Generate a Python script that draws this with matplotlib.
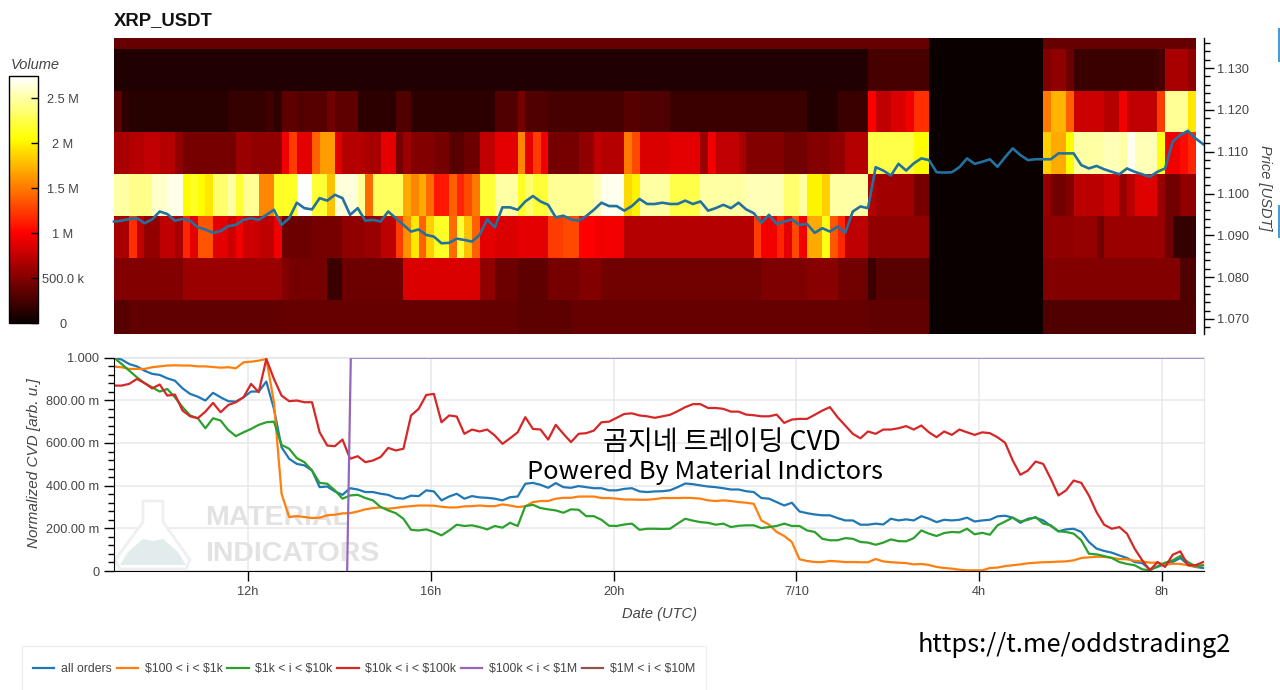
import numpy as np
import matplotlib
matplotlib.use('Agg')
import matplotlib.pyplot as plt
import matplotlib.patches as mpatches
from matplotlib.ticker import MultipleLocator

plt.rcParams['font.family'] = ['Liberation Sans', 'DejaVu Sans']

# ---- heatmap: volume (millions) per price bin, as runs over 10 minute columns ----
NUM_COLS = 142
bin_edges = [1.0645, 1.0745, 1.0846, 1.0946, 1.1047, 1.1147, 1.1246, 1.1346, 1.1446]

b0_start = [0, 2, 9, 22, 48, 53, 60, 99, 107, 122]
b0_vol = [0.32, 0.36, 0.36, 0.38, 0.37, 0.34, 0.38, 0.36, 0, 0.3]

b1_start = [0, 9, 22, 23, 28, 30, 38, 48, 50, 53, 57, 61, 64, 85, 91, 95, 99, 100, 107, 122, 140]
b1_vol = [0.5, 0.6, 0.5, 0.45, 0.2, 0.4, 0.85, 0.55, 0.4, 0.35, 0.45, 0.5, 0.42, 0.48, 0.52, 0.42, 0.2, 0.33, 0, 0.5, 0.28]

b2_start = [0, 2, 3, 4, 6, 8, 9, 10, 11, 13, 15, 16, 17, 19, 21, 22, 26, 30, 33, 35, 37, 38, 39, 40, 41, 42, 44, 45, 46, 47,
            48, 50, 53, 57, 59, 61, 63, 67, 84, 85, 87, 88, 89, 90, 91, 93, 94, 95, 96, 99, 107, 122, 126, 129, 130, 138, 139]
b2_vol = [0.65, 1.2, 0.74, 0.56, 0.74, 0.65, 1.15, 0.9, 1.35, 0.9, 0.8, 0.95, 0.8, 0.74, 0.95, 0.4, 0.45, 0.55, 0.6, 0.74, 1.25, 1.6, 1.95, 1.4, 1.85, 2.15, 1.45, 2.2, 1.8, 1.4,
          0.9, 0.85, 0.9, 1.25, 1.3, 1.0, 0.95, 0.7, 1.25, 0.95, 1.15, 0.9, 1.3, 0.95, 1.7, 2.1, 1.35, 1.15, 0.74, 0.55, 0, 0.55, 0.58, 0.42, 0.6, 0.42, 0.18]

b3_start = [0, 2, 5, 7, 9, 10, 11, 12, 13, 15, 16, 17, 19, 21, 24, 26, 28, 29, 32, 33, 34, 38, 39, 40, 41, 42, 44, 45, 46, 47,
            48, 50, 53, 54, 55, 57, 63, 64, 67, 68, 69, 73, 77, 83, 88, 90, 91, 93, 94, 99, 100, 105, 107, 122, 123, 125, 126, 130, 132, 133, 134, 137, 138, 140]
b3_vol = [2.5, 2.42, 2.6, 2.68, 2.05, 2.15, 2.05, 1.95, 2.35, 2.5, 2.2, 2.45, 1.55, 2.15, 2.75, 2.2, 1.8, 2.65, 2.45, 1.45, 2.3, 1.7, 1.55, 1.7, 1.45, 1.1, 1.4, 1.15, 1.3, 1.5,
          2.2, 2.5, 2.15, 2.35, 2.2, 2.45, 2.55, 2.7, 1.9, 2.0, 2.5, 2.25, 2.5, 2.55, 2.35, 2.5, 2.0, 1.85, 2.5, 0.7, 0.62, 0.45, 0, 0.58, 0.42, 0.5, 0.72, 0.8, 0.58, 0.72, 0.88, 0.6, 0.42, 0.55]

b4_start = [0, 2, 4, 6, 8, 9, 16, 18, 22, 23, 24, 26, 27, 29, 30, 33, 35, 37, 38, 39, 42, 44, 46, 48, 50, 53, 54, 55, 56, 57,
            61, 63, 64, 67, 68, 69, 73, 77, 78, 79, 82, 83, 88, 91, 94, 96, 99, 105, 107, 122, 123, 125, 126, 130, 132, 133, 134, 137, 138, 140, 141]
b4_vol = [0.65, 0.7, 0.75, 0.7, 0.55, 0.45, 0.6, 0.55, 0.95, 1.25, 0.9, 1.4, 1.65, 0.9, 0.7, 0.65, 0.9, 0.45, 0.6, 0.5, 0.45, 0.32, 0.4, 0.75, 0.9, 1.55, 0.9, 1.25, 0.95, 0.45,
          0.55, 0.75, 0.7, 1.5, 1.3, 0.85, 0.9, 0.6, 0.95, 0.75, 0.65, 0.5, 0.42, 0.5, 0.55, 0.7, 2.25, 2.05, 0, 1.85, 1.7, 2.05, 2.5, 2.55, 2.5, 2.7, 2.55, 2.1, 0.95, 1.05, 1.15]

b5_start = [0, 1, 2, 15, 20, 21, 22, 24, 25, 28, 29, 32, 37, 39, 50, 53, 54, 57, 67, 69, 73, 91, 95, 99, 100, 102, 104, 105, 107, 122, 123, 125, 126, 130, 132, 133, 137, 138, 141]
b5_vol = [0.35, 0.16, 0.12, 0.18, 0.22, 0.16, 0.35, 0.3, 0.32, 0.42, 0.35, 0.15, 0.3, 0.15, 0.3, 0.45, 0.3, 0.25, 0.32, 0.28, 0.2, 0.1, 0.2, 1.0, 0.75, 0.85, 0.95, 1.2, 0, 1.5, 1.75, 1.4, 0.8, 0.7, 0.95, 0.75, 1.25, 2.45, 1.95]

b6_start = [0, 99, 107, 122, 123, 125, 126, 137, 138, 141]
b6_vol = [0.09, 0.25, 0, 0.5, 0.55, 0.4, 0.2, 0.25, 0.65, 0.55]

b7_start = [0, 107, 122]
b7_vol = [0.38, 0, 0.38]

# ---- series on a 10 minute grid ----
START_HOUR = 9.068

price = [1.0933, 1.0935, 1.0939, 1.0941, 1.0929, 1.0938, 1.0957, 1.0951, 1.0935, 1.0939, 1.0935, 1.0919, 1.0914, 1.0906, 1.0910, 1.0922, 1.0925,
         1.0937, 1.0941, 1.0937, 1.0949, 1.0961, 1.0925, 1.0941, 1.0978, 1.0965, 1.0962, 1.0989, 1.0983, 1.0997, 1.0989, 1.0949, 1.0965, 1.0935,
         1.0937, 1.0933, 1.0957, 1.0941, 1.0925, 1.0909, 1.0914, 1.0901, 1.0897, 1.0881, 1.0882, 1.0892, 1.0889, 1.0885, 1.0901,
         1.0938, 1.0919, 1.0967, 1.0967, 1.0961, 1.0981, 1.0994, 1.0981, 1.0973, 1.0943, 1.0947, 1.0938, 1.0935, 1.0946, 1.0961, 1.0978, 1.0970,
         1.0970, 1.0959, 1.0970, 1.0987, 1.0975, 1.0975, 1.0978, 1.0975, 1.0975, 1.0983, 1.0975, 1.0981, 1.0959, 1.0965, 1.0973, 1.0965, 1.0978,
         1.0962, 1.0953, 1.0930, 1.0949, 1.0927, 1.0933, 1.0938, 1.0925, 1.0927, 1.0906, 1.0917, 1.0909,
         1.0921, 1.0906, 1.0957, 1.0969, 1.0965,
         1.1063, 1.1055, 1.1043, 1.1071, 1.1055, 1.1072, 1.1084, 1.1080, 1.1051, 1.1050, 1.1051, 1.1063, 1.1084, 1.1071, 1.1076, 1.1082, 1.1064,
         1.1087, 1.1108, 1.1092, 1.1080, 1.1082, 1.1082, 1.1082, 1.1096, 1.1096, 1.1096, 1.1068, 1.1060, 1.1066, 1.1058, 1.1052, 1.1046, 1.1060,
         1.1052, 1.1046, 1.1040, 1.1052, 1.1060, 1.1124, 1.1140, 1.1150, 1.1132, 1.1118]

# CVD values in thousandths of the normalized range
cvd_all = [1000, 991, 970, 959, 939, 924, 919, 903, 892, 856, 830, 817, 799, 835, 814, 796, 794, 814, 841, 841, 888, 760, 580, 526, 502, 495,
           471, 393, 396, 373, 357, 388, 382, 370, 370, 362, 357, 342, 339, 353, 351, 378, 373, 331, 349, 362, 339, 351, 345,
           343, 339, 331, 346, 349, 409, 413, 404, 390, 412, 393, 390, 398, 393, 388, 388, 378, 378, 385, 388, 373, 370, 373, 374, 378, 393, 410,
           407, 401, 396, 393, 388, 382, 382, 374, 370, 342, 339, 323, 307, 320, 279, 271, 265, 261, 261,
           248, 237, 237, 217, 217, 222, 218, 245, 237, 242, 237, 257, 245, 229, 240, 237, 240, 250, 232, 237, 240, 256, 259, 250, 226, 245, 250,
           237, 211, 186, 195, 198, 183, 136, 105, 94, 86, 73, 61, 42, 37, 8, 19, 34, 42, 61, 30, 19, 14]
cvd_100_1k = [958, 955, 947, 947, 947, 955, 959, 963, 964, 963, 963, 959, 959, 956, 953, 955, 950, 978, 981, 986, 994, 791, 362, 253, 257, 253,
              248, 250, 261, 264, 270, 271, 279, 289, 295, 298, 292, 296, 301, 304, 307, 307, 306, 301, 298, 298, 303, 304, 307,
              304, 304, 312, 307, 300, 303, 323, 328, 328, 339, 343, 343, 349, 349, 349, 342, 342, 339, 335, 335, 334, 334, 337, 342, 342, 342, 343,
              342, 339, 331, 328, 331, 328, 323, 320, 315, 237, 217, 183, 164, 136, 55, 47, 42, 42, 47,
              45, 42, 42, 41, 41, 56, 45, 41, 39, 37, 31, 33, 28, 19, 14, 11, 6, 3, 3, 3, 14, 16, 23, 27, 31, 36, 39, 41, 42, 44, 45, 50, 61, 64, 67,
              66, 62, 56, 55, 48, 45, 39, 39, 30, 34, 33, 27, 19, 27]
cvd_1k_10k = [1000, 970, 939, 908, 881, 861, 841, 853, 814, 768, 729, 716, 669, 716, 705, 661, 632, 650, 666, 685, 697, 700, 591, 573, 529, 510,
              471, 413, 409, 378, 339, 354, 357, 342, 331, 300, 284, 271, 245, 193, 190, 195, 183, 167, 190, 217, 211, 214, 206,
              195, 211, 203, 226, 211, 304, 310, 295, 289, 284, 273, 289, 287, 257, 257, 240, 212, 211, 218, 222, 193, 198, 198, 197, 198, 222, 245,
              236, 229, 226, 217, 222, 206, 212, 214, 214, 201, 206, 211, 222, 211, 211, 190, 183, 151, 144,
              144, 154, 151, 136, 133, 123, 133, 148, 140, 139, 154, 190, 175, 164, 178, 183, 181, 198, 172, 179, 170, 214, 232, 250, 232, 240, 253,
              222, 214, 186, 183, 175, 144, 81, 78, 70, 61, 42, 33, 27, 8, 3, 22, 39, 50, 70, 42, 22, 27]
cvd_10k_100k = [869, 869, 877, 900, 881, 856, 874, 822, 827, 752, 725, 716, 747, 788, 744, 778, 791, 814, 877, 838, 994, 900, 822, 796, 799, 791,
                791, 650, 588, 585, 616, 526, 538, 510, 518, 534, 577, 565, 573, 729, 760, 825, 830, 697, 729, 724, 643, 663, 654,
                663, 635, 596, 622, 650, 721, 666, 663, 616, 685, 643, 604, 643, 646, 658, 697, 700, 718, 736, 739, 729, 725, 718, 725, 732, 749, 768,
                782, 782, 764, 764, 760, 747, 747, 733, 730, 725, 725, 733, 694, 710, 713, 713, 732, 752, 768,
                721, 682, 643, 622, 654, 643, 663, 663, 669, 679, 663, 682, 650, 627, 654, 638, 663, 650, 638, 650, 646, 627, 601, 518, 451, 471, 513,
                502, 432, 354, 378, 424, 413, 354, 276, 217, 198, 206, 175, 105, 50, 3, 42, 19, 76, 92, 27, 27, 42]
cvd_100k_1m_hours = [14.17, 14.25, 32.92]
cvd_100k_1m = [0, 1000, 1000]

series_labels = ['all orders', r'\$100 < i < \$1k', r'\$1k < i < \$10k', r'\$10k < i < \$100k', r'\$100k < i < \$1M', r'\$1M < i < \$10M']
series_colors = ['#1f77b4', '#ff7f0e', '#2ca02c', '#d62728', '#9467bd', '#8c564b']

vol_ticks = [0, 0.5, 1, 1.5, 2, 2.5]
vol_tick_labels = ['0', '500.0 k', '1 M', '1.5 M', '2 M', '2.5 M']
cvd_ticks = [0, 200, 400, 600, 800, 1000]
cvd_tick_labels = ['0', '200.00 m', '400.00 m', '600.00 m', '800.00 m', '1.000']
hour_ticks = [12, 16, 20, 24, 28, 32]
hour_tick_labels = ['12h', '16h', '20h', '7/10', '4h', '8h']

# ---- layout in pixels ----
W, H = 1280, 690
TEXT_GREY = '#444444'
END_HOUR = 32.92


def ax_rect(left, top, right, bottom):
    return [left / W, 1 - bottom / H, (right - left) / W, (bottom - top) / H]


def fig_xy(x, y):
    return x / W, 1 - y / H


def hours(values):
    return START_HOUR + np.arange(len(values)) / 6


fig = plt.figure(figsize=(W / 100, H / 100), dpi=100, facecolor='white')

# ---- heatmap and price line ----
ax_top = fig.add_axes(ax_rect(114, 38, 1204, 334))
rows = [(b0_start, b0_vol), (b1_start, b1_vol), (b2_start, b2_vol), (b3_start, b3_vol),
        (b4_start, b4_vol), (b5_start, b5_vol), (b6_start, b6_vol), (b7_start, b7_vol)]
grid = np.array([np.repeat(vol, np.diff(start + [NUM_COLS])) for start, vol in rows])
col_edges = START_HOUR + np.arange(NUM_COLS + 1) / 6
mesh = ax_top.pcolormesh(col_edges, bin_edges, grid, cmap='hot', vmin=0, vmax=2.75, shading='flat', rasterized=True)
ax_top.plot(hours(price), price, color='#23719f', lw=1.9, solid_joinstyle='round', clip_on=False)
ax_top.set_xlim(START_HOUR, END_HOUR)
ax_top.set_ylim(1.0664, 1.1372)
ax_top.xaxis.set_visible(False)
ax_top.yaxis.tick_right()
ax_top.yaxis.set_major_locator(MultipleLocator(0.01))
ax_top.yaxis.set_major_formatter('{x:.3f}')
ax_top.yaxis.set_minor_locator(MultipleLocator(0.002))
ax_top.tick_params(axis='y', which='major', length=7, width=1, labelsize=9.2, labelcolor=TEXT_GREY, pad=2.5)
ax_top.tick_params(axis='y', which='minor', length=4, width=1)
for name in ['top', 'left', 'bottom']:
    ax_top.spines[name].set_visible(False)
ax_top.spines['right'].set_linewidth(1)

fig.text(*fig_xy(114, 21), 'XRP_USDT', fontsize=13.3, fontweight='bold', color='#111111', va='center')
fig.text(*fig_xy(1265, 188), 'Price [USDT]', fontsize=10.5, style='italic', color=TEXT_GREY,
         rotation=270, ha='center', va='center')

# ---- colour bar ----
cax = fig.add_axes(ax_rect(9, 76, 38, 323))
cbar = fig.colorbar(mesh, cax=cax)
cax.set_yticks(vol_ticks, vol_tick_labels, ha='center')
cax.minorticks_off()
cax.tick_params(axis='y', direction='in', length=5, width=1, labelsize=9.2, labelcolor=TEXT_GREY, pad=18)
cbar.outline.set_edgecolor('black')
cbar.outline.set_linewidth(1)
fig.text(*fig_xy(35, 65), 'Volume', fontsize=10.5, style='italic', color=TEXT_GREY, ha='center', va='center')

# ---- CVD panel ----
ax = fig.add_axes(ax_rect(114, 357, 1204, 571))
ax.set_xlim(START_HOUR, END_HOUR)
ax.set_ylim(0, 1003)
ax.set_xticks(hour_ticks, hour_tick_labels)
ax.set_yticks(cvd_ticks, cvd_tick_labels)
ax.yaxis.set_minor_locator(MultipleLocator(40))
ax.grid(True, color='#e8e8e8', lw=1.1)
ax.set_axisbelow(True)
ax.tick_params(axis='both', which='major', length=7, width=1, labelsize=9.2, labelcolor=TEXT_GREY)
ax.tick_params(axis='y', which='minor', length=4, width=1)
ax.tick_params(axis='x', pad=3.5)
ax.set_ylabel('Normalized CVD [arb. u.]', fontsize=11, style='italic', color=TEXT_GREY)
ax.yaxis.set_label_coords((41 - 114) / 1090, 0.505)
ax.set_xlabel('Date (UTC)', fontsize=10.5, style='italic', color=TEXT_GREY, labelpad=7)
for name in ['top', 'right']:
    ax.spines[name].set_color('#e5e5e5')

# watermark behind the lines
flask_edge = '#eef0f0'
flask_pts = [(143, 501), (163, 501), (163, 522), (190, 560), (186, 569), (120, 569), (115, 560), (143, 522)]
flask_liquid = [(120, 565), (128, 552), (143, 539), (153, 541), (163, 539), (178, 552), (186, 565)]
ax.add_patch(mpatches.Polygon([fig_xy(*p) for p in flask_pts], closed=True, fc='white', ec=flask_edge, lw=2,
                              transform=fig.transFigure, zorder=0.7, clip_on=False))
ax.add_patch(mpatches.Polygon([fig_xy(*p) for p in flask_liquid], closed=True, fc='#e3ecec', ec='none',
                              transform=fig.transFigure, zorder=0.8, clip_on=False))
for label, y in [('MATERIAL', 518), ('INDICATORS', 554)]:
    ax.text(*fig_xy(205, y), label, transform=fig.transFigure, fontsize=20.5, fontweight='bold',
            color='#e2e2e2', va='center', zorder=0.9)

series = [cvd_all, cvd_100_1k, cvd_1k_10k, cvd_10k_100k]
handles = []
for vals, label, color in zip(series, series_labels, series_colors):
    handles += ax.plot(hours(vals), vals, color=color, lw=1.6, label=label)
handles += ax.plot(cvd_100k_1m_hours, cvd_100k_1m, color=series_colors[4], lw=1.6, label=series_labels[4])
# the largest size class never trades in this window, so it only shows in the legend
handles += ax.plot([], [], color=series_colors[5], lw=1.6, label=series_labels[5])

# legend panel runs off the bottom edge of the figure
fig.add_artist(mpatches.Rectangle(fig_xy(22, 700), 684 / W, 54 / H, fc='white', ec='#eeeeee', lw=1,
                                  transform=fig.transFigure))
leg = fig.legend(handles=handles, loc='center left', bbox_to_anchor=fig_xy(33, 669), ncol=6, fontsize=8.8,
                 frameon=False, borderaxespad=0, borderpad=0, handlelength=1.75, handletextpad=0.55,
                 columnspacing=0.38)
for t in leg.get_texts():
    t.set_color(TEXT_GREY)

# ---- captions over the chart ----
kr_font = ['Noto Sans CJK KR', 'DejaVu Sans']
caption_style = dict(family=kr_font, color='black', ha='center', va='center', fontweight='medium')
fig.text(*fig_xy(722, 442), '곰지네 트레이딩 CVD', fontsize=19.5, **caption_style)
fig.text(*fig_xy(705, 472), 'Powered By Material Indictors', fontsize=18.3, **caption_style)
fig.text(*fig_xy(1074, 645), 'https://t.me/oddstrading2', fontsize=18.3, **caption_style)

# blue tabs at the right margin
for top, bottom in [(28, 62), (205, 238)]:
    fig.add_artist(mpatches.Rectangle(fig_xy(1278, bottom), 2 / W, (bottom - top) / H, fc='#4a9bd4', ec='none',
                                      transform=fig.transFigure))

fig.savefig('out.png', dpi=100, facecolor='white')
